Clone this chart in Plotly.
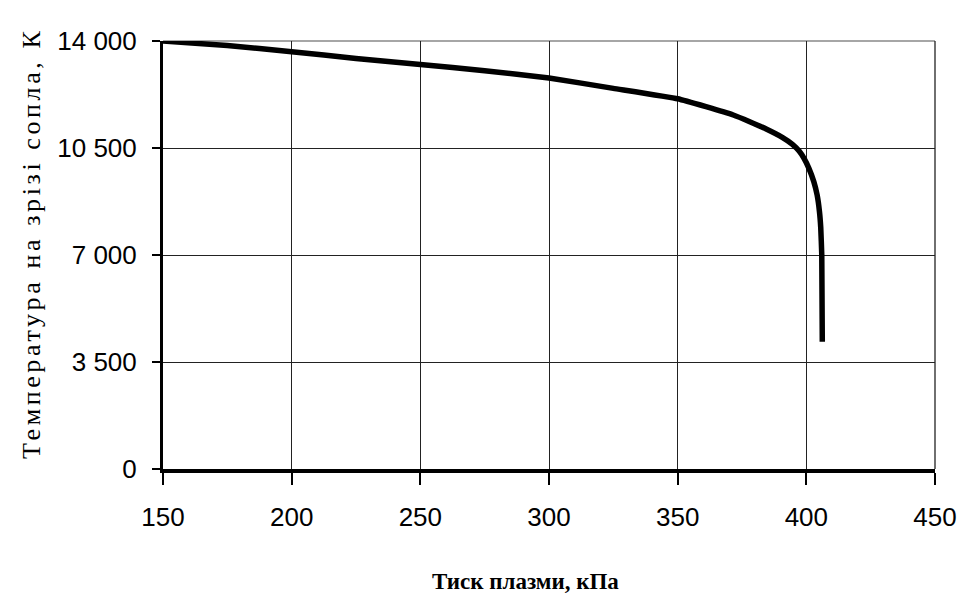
import plotly.graph_objects as go

pressure_kpa = [150, 175, 200, 225, 250, 275, 300, 325, 350, 361, 371.6, 378, 384.4,
                390.8, 394.6, 397.2, 399.1, 401, 402.9, 404.2, 405.1, 405.6, 406, 406.2]
temperature_k = [14000, 13850, 13650, 13430, 13230, 13030, 12790, 12450, 12110, 11850,
                 11580, 11360, 11120, 10840, 10620, 10400, 10160, 9835, 9400, 8960,
                 8420, 7900, 7000, 4160]

x_ticks = [150, 200, 250, 300, 350, 400, 450]
y_ticks = [0, 3500, 7000, 10500, 14000]
y_tick_text = ["0", "3 500", "7 000", "10 500", "14 000"]

x_title = "Тиск плазми, кПа"
y_title = "Температура на зрізі сопла, К"

fig = go.Figure()
fig.add_trace(go.Scatter(
    x=pressure_kpa, y=temperature_k, mode="lines",
    line=dict(color="black", width=5.5, shape="spline", smoothing=0.3),
    showlegend=False, hoverinfo="skip",
))

tickfont = dict(family="Liberation Sans, Arial, sans-serif", size=26, color="black")

fig.update_layout(
    width=969, height=597,
    margin=dict(l=163, r=29, t=41, b=128),
    paper_bgcolor="white", plot_bgcolor="white",
    xaxis=dict(
        range=[150, 450], tickvals=x_ticks, ticktext=[str(v) for v in x_ticks],
        showgrid=True, gridcolor="#222", gridwidth=1.3,
        showline=True, linecolor="black", linewidth=4,
        ticks="outside", ticklen=12, tickwidth=2, tickcolor="black",
        tickfont=tickfont, zeroline=False, ticklabelstandoff=10,
    ),
    yaxis=dict(
        range=[0, 14000], tickvals=y_ticks, ticktext=y_tick_text,
        showgrid=True, gridcolor="#222", gridwidth=1.3,
        showline=True, linecolor="black", linewidth=3,
        ticks="outside", ticklen=8, tickwidth=2, tickcolor="black",
        tickfont=tickfont, zeroline=False, ticklabelstandoff=10,
    ),
    shapes=[
        dict(type="line", xref="paper", yref="paper", x0=0, x1=1, y0=1, y1=1,
             line=dict(color="#888", width=1.5), layer="below"),
        dict(type="line", xref="paper", yref="paper", x0=1, x1=1, y0=0, y1=1,
             line=dict(color="#222", width=1.3), layer="below"),
    ],
    annotations=[
        dict(text="<b>" + x_title + "</b>", xref="paper", yref="paper",
             x=0.47, y=-0.264, xanchor="center", yanchor="middle", showarrow=False,
             font=dict(family="Liberation Serif, Times New Roman, serif", size=23, color="black")),
        dict(text='<span style="letter-spacing:3.6px">' + y_title + "</span>",
             xref="paper", yref="paper", x=-0.171, y=0.528, textangle=-90,
             xanchor="center", yanchor="middle", showarrow=False,
             font=dict(family="Liberation Serif, Times New Roman, serif", size=26, color="black")),
    ],
)

fig.write_html("out.html")
